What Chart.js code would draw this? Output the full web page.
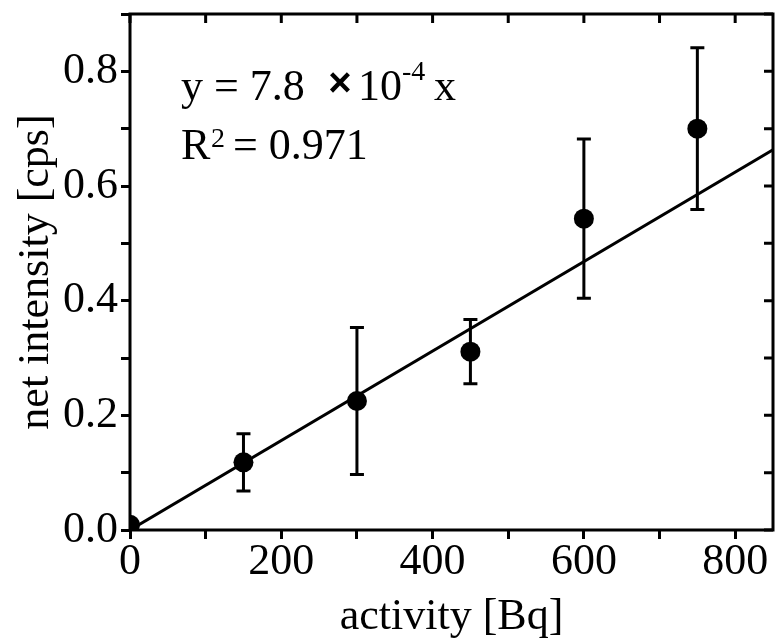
<!DOCTYPE html>
<html><head><meta charset="utf-8">
<script src="https://cdn.jsdelivr.net/npm/chart.js@4"></script>
<style>html,body{margin:0;padding:0;background:#fff}#wrap{width:778px;height:644px}</style>
</head><body><div id="wrap"><canvas id="c" width="778" height="644"></canvas></div>
<script>
const activity = [0, 150, 300, 450, 600, 750];
const intensity = [0.009, 0.118, 0.225, 0.311, 0.543, 0.700];
const errors = [0, 0.050, 0.128, 0.056, 0.139, 0.141];
const fitX = [0, 850];
const fitY = [0, 0.663];
const xTickLabels = [0, 200, 400, 600, 800];
const yTickLabels = [0.0, 0.2, 0.4, 0.6, 0.8];

const FONT = '"Liberation Serif", "Times New Roman", serif';
const TICK = 9;

const framePlugin = {
  id: 'frame',
  beforeDatasetsDraw(chart) {
    const ctx = chart.ctx, xs = chart.scales.x, ys = chart.scales.y;
    ctx.save();
    ctx.strokeStyle = '#000';
    ctx.lineWidth = 3;
    ctx.lineCap = 'butt';
    activity.forEach((a, i) => {
      if (!errors[i]) return;
      const px = xs.getPixelForValue(a);
      const top = ys.getPixelForValue(intensity[i] + errors[i]);
      const bot = ys.getPixelForValue(intensity[i] - errors[i]);
      ctx.beginPath();
      ctx.moveTo(px, top); ctx.lineTo(px, bot);
      ctx.moveTo(px - 7, top); ctx.lineTo(px + 7, top);
      ctx.moveTo(px - 7, bot); ctx.lineTo(px + 7, bot);
      ctx.stroke();
    });
    ctx.restore();
  },
  afterDatasetsDraw(chart) {
    const ctx = chart.ctx, a = chart.chartArea;
    const xs = chart.scales.x, ys = chart.scales.y;
    ctx.save();
    ctx.strokeStyle = '#000';
    ctx.lineWidth = 3;
    ctx.strokeRect(a.left, a.top, a.right - a.left, a.bottom - a.top);
    ctx.beginPath();
    xs.ticks.forEach(t => {
      const px = xs.getPixelForValue(t.value);
      ctx.moveTo(px, a.top); ctx.lineTo(px, a.top + TICK);
    });
    ys.ticks.forEach(t => {
      const py = ys.getPixelForValue(t.value);
      ctx.moveTo(a.right, py); ctx.lineTo(a.right - TICK, py);
    });
    ctx.stroke();
    ctx.restore();
  },
  afterDraw(chart) {
    const ctx = chart.ctx;
    ctx.save();
    ctx.fillStyle = '#000';
    ctx.textBaseline = 'alphabetic';
    ctx.textAlign = 'left';
    ctx.font = '44px ' + FONT;
    ctx.fillText('y = 7.8', 181, 100);
    ctx.fillText('10', 358, 100);
    ctx.fillText('x', 434, 100);
    ctx.fillText('R', 181, 159);
    ctx.fillText('= 0.971', 233, 159);
    ctx.font = '28px ' + FONT;
    ctx.fillText('-4', 402, 80);
    ctx.fillText('2', 211, 147);
    ctx.font = 'bold 40px "Liberation Sans", Arial, sans-serif';
    ctx.textAlign = 'center';
    ctx.fillText('\u00D7', 340, 96);
    ctx.restore();
  }
};

new Chart(document.getElementById('c'), {
  type: 'scatter',
  data: {
    datasets: [
      {
        label: 'data',
        data: activity.map((a, i) => ({ x: a, y: intensity[i] })),
        pointRadius: 10,
        pointHoverRadius: 10,
        pointBackgroundColor: '#000',
        pointBorderColor: '#000',
        pointBorderWidth: 0,
        showLine: false,
        clip: 0,
        order: 0
      },
      {
        label: 'fit',
        data: fitX.map((x, i) => ({ x: x, y: fitY[i] })),
        showLine: true,
        borderColor: '#000',
        borderWidth: 3,
        pointRadius: 0,
        fill: false,
        clip: 0,
        order: 1
      }
    ]
  },
  options: {
    responsive: false,
    animation: false,
    devicePixelRatio: 1,
    layout: { autoPadding: false, padding: { top: 14, right: 5, left: 0, bottom: 0 } },
    plugins: { legend: { display: false }, tooltip: { enabled: false } },
    scales: {
      x: {
        type: 'linear',
        position: 'bottom',
        min: 0, max: 850,
        afterFit(s) { s.height = 114; s.paddingLeft = 0; s.paddingRight = 0; },
        border: { display: false },
        grid: { drawOnChartArea: false, drawTicks: true, tickLength: TICK, tickWidth: 3, lineWidth: 3, tickColor: '#000', color: '#000' },
        ticks: {
          stepSize: 100, autoSkip: false, includeBounds: false, maxRotation: 0,
          color: '#000', padding: -3,
          font: { family: FONT, size: 44 },
          callback: v => xTickLabels.includes(v) ? String(v) : ''
        },
        title: { display: true, text: 'activity [Bq]', color: '#000', font: { family: FONT, size: 44 }, padding: { top: 0, bottom: 0 } }
      },
      y: {
        type: 'linear',
        position: 'left',
        min: 0, max: 0.9,
        afterFit(s) { s.width = 130; s.paddingTop = 0; s.paddingBottom = 0; },
        border: { display: false },
        grid: { drawOnChartArea: false, drawTicks: true, tickLength: TICK, tickWidth: 3, lineWidth: 3, tickColor: '#000', color: '#000' },
        ticks: {
          stepSize: 0.1, autoSkip: false, includeBounds: false,
          color: '#000', padding: 3,
          font: { family: FONT, size: 44 },
          callback: v => yTickLabels.some(t => Math.abs(t - v) < 1e-9) ? v.toFixed(1) : ''
        },
        title: { display: true, text: 'net intensity [cps]', color: '#000', font: { family: FONT, size: 44 }, padding: { top: 10, bottom: 0 } }
      }
    }
  },
  plugins: [framePlugin]
});
</script>
</body></html>
